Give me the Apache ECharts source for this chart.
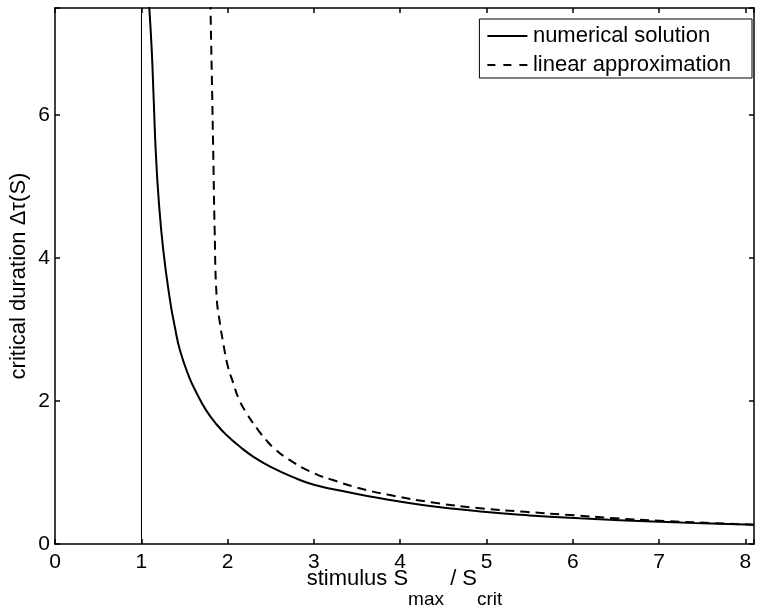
<!DOCTYPE html>
<html>
<head>
<meta charset="utf-8">
<script src="https://cdn.jsdelivr.net/npm/echarts@6/dist/echarts.min.js"></script>
<style>html,body{margin:0;padding:0;background:#fff;}#c{width:764px;height:614px;}</style>
</head>
<body>
<div id="c"></div>
<script>
// Data
var numericalX = [1.09, 1.121, 1.144, 1.167, 1.202, 1.255, 1.333, 1.39, 1.448, 1.55, 1.642, 1.75, 1.873, 2.0, 2.144, 2.3, 2.5, 2.75, 3.0, 3.4, 3.77, 4.3, 4.93, 5.5, 6.08, 7.0, 7.5, 8.1];
var numericalY = [7.55, 6.91, 6.21, 5.51, 4.81, 4.11, 3.41, 3.03, 2.71, 2.35, 2.11, 1.873, 1.672, 1.51, 1.36, 1.22, 1.08, 0.94, 0.83, 0.725, 0.64, 0.54, 0.455, 0.40, 0.36, 0.31, 0.29, 0.27];
var linearX = [1.80, 1.818, 1.834, 1.85, 1.873, 1.91, 1.95, 2.0, 2.066, 2.13, 2.22, 2.35, 2.45, 2.53, 2.7, 3.0, 3.22, 3.5, 3.88, 4.4, 4.93, 5.45, 5.97, 6.5, 7.0, 8.1];
var linearY = [7.6, 6.5, 5.46, 4.4, 3.46, 3.1, 2.81, 2.5, 2.25, 2.03, 1.83, 1.6, 1.45, 1.35, 1.19, 0.99, 0.895, 0.79, 0.685, 0.577, 0.50, 0.45, 0.405, 0.36, 0.325, 0.27];
var criticalLineX = 1;
var seriesNames = ['numerical solution', 'linear approximation'];
var xTicks = [0, 1, 2, 3, 4, 5, 6, 7, 8];
var yTicks = [0, 2, 4, 6];

function zip(a, b) { return a.map(function (v, i) { return [v, b[i]]; }); }
var FONT = 'Liberation Sans, Arial, Helvetica, sans-serif';
var chart = echarts.init(document.getElementById('c'), null, {renderer: 'canvas'});

function xAxisCfg(pos, showLabels) {
  return {
    type: 'value', position: pos, min: 0, max: 8.1, interval: 1,
    axisLine: {show: true, onZero: false, lineStyle: {color: '#000', width: 1.5}},
    axisTick: {show: true, inside: true, length: 5, lineStyle: {color: '#000', width: 1.5}},
    splitLine: {show: false},
    axisLabel: {show: showLabels, color: '#000', fontSize: 21, fontFamily: FONT, margin: 8,
      formatter: function (v) { return xTicks.indexOf(v) >= 0 ? String(v) : ''; }}
  };
}
function yAxisCfg(pos, showLabels) {
  return {
    type: 'value', position: pos, min: 0, max: 7.5, interval: 2,
    axisLine: {show: true, onZero: false, lineStyle: {color: '#000', width: 1.5}},
    axisTick: {show: true, inside: true, length: 5, lineStyle: {color: '#000', width: 1.5}},
    splitLine: {show: false},
    axisLabel: {show: showLabels, color: '#000', fontSize: 21, fontFamily: FONT, margin: 5,
      formatter: function (v) { return yTicks.indexOf(v) >= 0 ? String(v) : ''; }}
  };
}

var xMain = xAxisCfg('bottom', true);
xMain.name = '{a|stimulus S}{s|max}{a| / S}{s|crit}';
xMain.nameLocation = 'middle';
xMain.nameGap = 24;
xMain.nameMoveOverlap = false;
xMain.nameTextStyle = {
  color: '#000', fontFamily: FONT,
  rich: {
    a: {fontSize: 22, fontFamily: FONT, color: '#000', verticalAlign: 'bottom', padding: [0, 0, 19, 0]},
    s: {fontSize: 19, fontFamily: FONT, color: '#000', verticalAlign: 'bottom'}
  }
};
var xTop = xAxisCfg('top', false);

var yMain = yAxisCfg('left', true);
yMain.name = 'critical duration \u0394\u03c4(S)';
yMain.nameLocation = 'middle';
yMain.nameGap = 25;
yMain.nameMoveOverlap = false;
yMain.nameTextStyle = {color: '#000', fontSize: 22, fontFamily: FONT};
var yRight = yAxisCfg('right', false);

chart.setOption({
  backgroundColor: '#fff',
  animation: false,
  grid: {left: 55, right: 10, top: 8, bottom: 70, containLabel: false, outerBoundsMode: 'none'},
  xAxis: [xMain, xTop],
  yAxis: [yMain, yRight],
  legend: {
    orient: 'vertical', right: 12, top: 19,
    data: [
      {name: seriesNames[0], icon: 'path://M0,0H40V2H0Z'},
      {name: seriesNames[1], icon: 'path://M0,0H8V2H0Z M16,0H24V2H16Z M32,0H40V2H32Z'}
    ],
    itemWidth: 41, itemHeight: 2, itemGap: 5, itemTextGap: 2,
    padding: [5, 21, 1, 8],
    backgroundColor: '#fff', borderColor: '#000', borderWidth: 1, borderRadius: 0,
    itemStyle: {color: '#000'},
    textStyle: {color: '#000', fontSize: 22, fontFamily: FONT, lineHeight: 24}
  },
  series: [
    {
      name: seriesNames[0], type: 'line', xAxisIndex: 0, yAxisIndex: 0,
      data: zip(numericalX, numericalY), symbol: 'none', smooth: 0.5, clip: true,
      lineStyle: {color: '#000', width: 2, type: 'solid'}, itemStyle: {color: '#000'},
      markLine: {
        silent: true, symbol: ['none', 'none'], label: {show: false},
        lineStyle: {color: '#000', width: 1, type: 'solid'},
        data: [{xAxis: criticalLineX}]
      }
    },
    {
      name: seriesNames[1], type: 'line', xAxisIndex: 0, yAxisIndex: 0,
      data: zip(linearX, linearY), symbol: 'none', smooth: 0.5, clip: true,
      lineStyle: {color: '#000', width: 2, type: [9, 6]}, itemStyle: {color: '#000'}
    }
  ]
});
</script>
</body>
</html>
